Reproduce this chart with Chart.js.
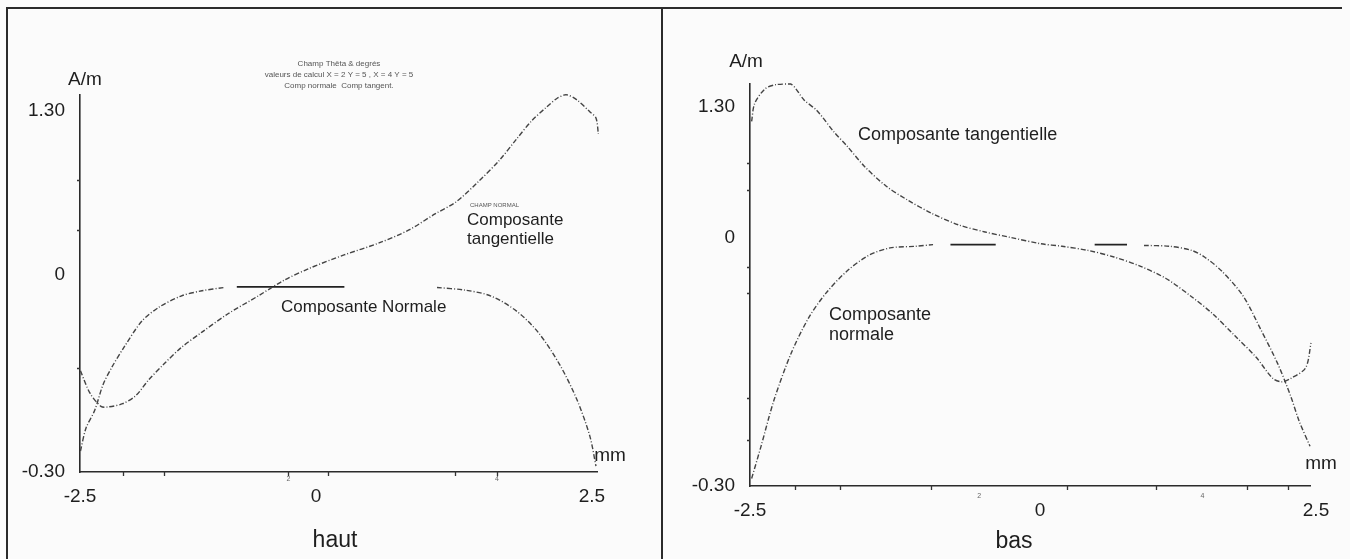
<!DOCTYPE html>
<html>
<head>
<meta charset="utf-8">
<script src="https://cdn.jsdelivr.net/npm/chart.js@4.4.0/dist/chart.umd.min.js"></script>
<style>
html,body{margin:0;padding:0;background:#fbfbfb;}
#wrap{position:relative;width:1350px;height:559px;overflow:hidden;background:#fbfbfb;}
canvas{position:absolute;top:0;}
#c1{left:0;}
#c2{left:662px;}
.ln{position:absolute;background:#2b2b2b;}
</style>
</head>
<body>
<div id="wrap">
<canvas id="c1" width="662" height="559"></canvas>
<canvas id="c2" width="688" height="559"></canvas>
<div class="ln" style="left:6px;top:7px;width:1336px;height:2px"></div>
<div class="ln" style="left:6px;top:7px;width:2px;height:552px"></div>
<div class="ln" style="left:661px;top:7px;width:2px;height:552px"></div>
</div>
<script>
// ---------- DATA (A/m versus mm) ----------
// Panel "haut"
const hautTangX = [-2.495,-2.394,-2.278,-2.208,-2.048,-1.911,-1.774,-1.614,-1.432,-1.208,-0.932,-0.614,-0.339,-0.064,0.254,0.571,0.842,1.078,1.268,1.467,1.658,1.817,1.953,2.090,2.188,2.265,2.364,2.482,2.536,2.558];
const hautTangY = [-0.146,-0.180,-0.200,-0.201,-0.196,-0.184,-0.160,-0.136,-0.111,-0.087,-0.059,-0.032,-0.008,0.055,0.159,0.254,0.357,0.484,0.579,0.737,0.906,1.078,1.221,1.332,1.403,1.430,1.387,1.292,1.245,1.118];
const hautNormX = [-2.495,-2.436,-2.344,-2.256,-2.161,-2.025,-1.843,-1.663,-1.430,-1.208,-0.975,null,-0.839,0.257,null,1.096,1.350,1.585,1.817,2.011,2.206,2.364,2.480,2.536];
const hautNormY = [-0.268,-0.233,-0.206,-0.167,-0.140,-0.108,-0.070,-0.049,-0.032,-0.024,-0.019,null,-0.018,-0.018,null,-0.019,-0.023,-0.032,-0.055,-0.087,-0.136,-0.190,-0.245,-0.291];
// Panel "bas"
const basTangX = [-2.486,-2.460,-2.371,-2.276,-2.147,-2.034,-1.922,-1.776,-1.664,-1.517,-1.328,-1.142,-0.922,-0.698,-0.474,-0.252,0.009,0.199,0.435,0.670,0.906,1.141,1.373,1.567,1.763,1.956,2.110,2.192,2.270,2.406,2.455];
const basTangY = [1.157,1.334,1.479,1.522,1.528,1.370,1.263,1.052,0.913,0.715,0.516,0.377,0.238,0.129,0.060,0.005,-0.007,-0.010,-0.015,-0.023,-0.034,-0.049,-0.071,-0.092,-0.118,-0.144,-0.170,-0.174,-0.170,-0.157,-0.127];
const basNormX = [-2.486,-2.405,-2.293,-2.147,-1.996,-1.847,-1.664,-1.477,-1.293,-1.069,-0.922,null,-0.772,-0.382,null,0.495,0.788,null,0.942,1.178,1.373,1.490,1.646,1.839,1.997,2.153,2.270,2.346,2.446];
const basNormY = [-0.291,-0.252,-0.196,-0.140,-0.097,-0.067,-0.040,-0.021,-0.012,-0.010,-0.008,null,-0.008,-0.008,null,-0.008,-0.008,null,-0.009,-0.010,-0.015,-0.023,-0.040,-0.070,-0.110,-0.152,-0.191,-0.221,-0.252];

// Tick values and labels
const yTickValues = [-0.30, 0, 1.30];
const yTickLabels = ['-0.30', '0', '1.30'];
const xTickValues = [-2.5, 0, 2.5];
const xTickLabels = ['-2.5', '0', '2.5'];
// small unlabelled tick marks left over from the original plot
const hautMinorX = [-2.048, -1.610, -0.293, 0.111, 1.259, 1.640];
const hautMinorY = [0.753, 0.357, -0.142];
const basMinorX = [-2.115, -1.725, -0.940, 0.242, 1.051, 1.872, 2.250];
const basMinorY = [0.744, 0.476, -0.035, -0.067, -0.194, -0.244];

// Texts
const hautNotes = [
  {text:'A/m', x:-2.447, y:1.546, size:19},
  {text:'mm', x:2.663, y:-0.276, size:19},
  {text:'haut', x:0.172, y:-0.405, size:23},
  {text:'Composante Normale', x:-0.371, y:-0.049, size:17, align:'left'},
  {text:'Composante', x:1.368, y:0.436, size:17, align:'left'},
  {text:'tangentielle', x:1.368, y:0.285, size:17, align:'left'},
  {text:'CHAMP NORMAL', x:1.395, y:0.555, size:6, align:'left', color:'#555'},
  {text:'Champ Thêta & degrés', x:0.208, y:1.673, size:8, color:'#555'},
  {text:'valeurs de calcul X = 2 Y = 5 , X = 4 Y = 5', x:0.208, y:1.585, size:8, color:'#555'},
  {text:'Comp normale  Comp tangent.', x:0.208, y:1.498, size:8, color:'#555'},
  {text:'2', x:-0.293, y:-0.310, size:7, color:'#666'},
  {text:'4', x:1.640, y:-0.310, size:7, color:'#666'}
];
const basNotes = [
  {text:'A/m', x:-2.534, y:1.747, size:19},
  {text:'mm', x:2.545, y:-0.273, size:19},
  {text:'bas', x:-0.224, y:-0.367, size:23},
  {text:'Composante tangentielle', x:-1.569, y:1.022, size:18, align:'left'},
  {text:'Composante', x:-1.819, y:-0.093, size:18, align:'left'},
  {text:'normale', x:-1.819, y:-0.117, size:18, align:'left'},
  {text:'2', x:-0.525, y:-0.312, size:7, color:'#666'},
  {text:'4', x:1.472, y:-0.312, size:7, color:'#666'}
];

// ---------- piecewise-linear axis (labelled axis of the scanned figure) ----------
class PiecewiseScale extends Chart.LinearScale {
  buildTicks() { return this.options.breakValues.map(v => ({value: v})); }
  _dec(v) {
    if (v === null || v === undefined || !isFinite(v)) return NaN;
    const bv = this.options.breakValues, bp = this.options.breakPos;
    let i = 0;
    while (i < bv.length - 2 && v > bv[i + 1]) i++;
    return bp[i] + (v - bv[i]) * (bp[i + 1] - bp[i]) / (bv[i + 1] - bv[i]);
  }
  getPixelForValue(v) { const d = this._dec(v); return isNaN(d) ? NaN : this.getPixelForDecimal(d); }
  getValueForPixel(p) {
    const d = this.getDecimalForPixel(p);
    const bv = this.options.breakValues, bp = this.options.breakPos;
    let i = 0;
    while (i < bp.length - 2 && d > bp[i + 1]) i++;
    return bv[i] + (d - bp[i]) * (bv[i + 1] - bv[i]) / (bp[i + 1] - bp[i]);
  }
}
PiecewiseScale.id = 'piecewise';
PiecewiseScale.defaults = Chart.LinearScale.defaults;
Chart.register(PiecewiseScale);

const FONT = '"Liberation Sans", Arial, sans-serif';

function pts(xs, ys) {
  return xs.map((x, i) => ({x: x === null ? NaN : x, y: ys[i] === null ? NaN : ys[i]}));
}

function notesPlugin(notes, minorX, minorY) {
  return {
    id: 'notes',
    afterDraw(chart) {
      const ctx = chart.ctx, xs = chart.scales.x, ys = chart.scales.y;
      const a = chart.chartArea;
      ctx.save();
      ctx.strokeStyle = '#333';
      ctx.lineWidth = 1.3;
      ctx.beginPath();
      minorX.forEach(v => { const p = Math.round(xs.getPixelForValue(v)) + 0.5; ctx.moveTo(p, a.bottom - 1); ctx.lineTo(p, a.bottom + 4); });
      minorY.forEach(v => { const p = Math.round(ys.getPixelForValue(v)) + 0.5; ctx.moveTo(a.left - 3, p); ctx.lineTo(a.left, p); });
      ctx.stroke();
      notes.forEach(n => {
        ctx.font = n.size + 'px ' + FONT;
        ctx.fillStyle = n.color || '#1e1e1e';
        ctx.textAlign = n.align || 'center';
        ctx.textBaseline = 'middle';
        ctx.fillText(n.text, xs.getPixelForValue(n.x), ys.getPixelForValue(n.y));
      });
      ctx.restore();
    }
  };
}

function curve(label, data, solidFrom) {
  const solid = new Set(solidFrom || []);
  return {
    label, data,
    borderColor: '#444',
    borderWidth: 1.4,
    borderDash: [5, 2, 1, 2],
    pointRadius: 0,
    tension: 0.3,
    spanGaps: false,
    clip: false,
    segment: {
      borderDash: c => solid.has(c.p0DataIndex) ? [] : undefined,
      borderColor: c => solid.has(c.p0DataIndex) ? '#222' : undefined,
      borderWidth: c => solid.has(c.p0DataIndex) ? 1.6 : undefined
    }
  };
}

function makeChart(id, datasets, notes, minorX, minorY, g) {
  new Chart(document.getElementById(id), {
    type: 'line',
    data: {datasets},
    plugins: [notesPlugin(notes, minorX, minorY)],
    options: {
      responsive: false,
      animation: false,
      events: [],
      layout: {padding: {top: g.top, right: g.right, left: 0, bottom: 0}},
      plugins: {legend: {display: false}, tooltip: {enabled: false}},
      scales: {
        x: {
          type: 'piecewise',
          min: -2.5, max: g.xMax,
          breakValues: xTickValues, breakPos: g.xPos,
          grid: {display: false, drawTicks: false},
          border: {display: true, color: '#2b2b2b', width: 1.6},
          ticks: {padding: g.xPad, maxRotation: 0, autoSkip: false, color: '#1e1e1e',
                  font: {family: FONT, size: 19},
                  callback: (v, i) => xTickLabels[i]},
          afterFit: s => { s.height = g.xH; }
        },
        y: {
          type: 'piecewise',
          min: -0.30, max: g.yMax,
          breakValues: yTickValues, breakPos: g.yPos,
          grid: {display: false, drawTicks: false},
          border: {display: true, color: '#2b2b2b', width: 1.6},
          ticks: {padding: g.yPad, autoSkip: false, color: '#1e1e1e',
                  font: {family: FONT, size: 19},
                  callback: (v, i) => yTickLabels[i]},
          afterFit: s => { s.width = g.yW; }
        }
      }
    }
  });
}

makeChart('c1', [
  curve('Composante tangentielle', pts(hautTangX, hautTangY)),
  curve('Composante Normale', pts(hautNormX, hautNormY), [12])
], hautNotes, hautMinorX, hautMinorY, {
  top: 95, right: 65, yW: 80, xH: 87, xPad: 13, yPad: 15,
  xMax: 2.545, yMax: 1.427,
  xPos: [0, 0.4565, 0.9903], yPos: [0, 0.5225, 0.9576]
});

makeChart('c2', [
  curve('Composante tangentielle', pts(basTangX, basTangY)),
  curve('Composante normale', pts(basNormX, basNormY), [12, 15])
], basNotes, basMinorX, basMinorY, {
  top: 84, right: 40, yW: 88, xH: 73, xPad: 13, yPad: 15,
  xMax: 2.5, yMax: 1.528,
  xPos: [0, 0.5179, 1.0107], yPos: [0, 0.6169, 0.9428]
});
</script>
</body>
</html>
